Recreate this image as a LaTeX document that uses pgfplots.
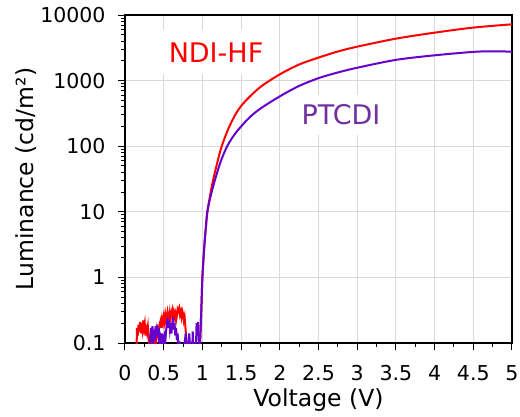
\documentclass[border=0pt]{standalone}
\usepackage{pgfplots}
\pgfplotsset{compat=1.18}
\usepackage{fontspec}
\setmainfont{DejaVu Sans}
\definecolor{ndi}{RGB}{255,0,0}
\definecolor{ptc}{RGB}{102,0,204}
\definecolor{ptctext}{RGB}{112,48,160}
\definecolor{gridc}{RGB}{217,217,217}

\begin{document}
\begin{tikzpicture}
\path[use as bounding box] (-125pt,-73pt) rectangle (395pt,343pt);
\begin{axis}[
  at={(0pt,0pt)}, anchor=south west,
  scale only axis, width=387pt, height=328pt,
  ymode=log, xmin=0, xmax=5, ymin=0.1, ymax=10000,
  xtick={0,0.5,1,1.5,2,2.5,3,3.5,4,4.5,5},
  xticklabels={0,0.5,1,1.5,2,2.5,3,3.5,4,4.5,5},
  minor x tick num=1,
  ytick={0.1,1,10,100,1000,10000},
  yticklabels={0.1,1,10,100,1000,10000},
  tick align=outside, xtick pos=bottom, ytick pos=left,
  major tick length=7pt, minor tick length=4pt,
  every tick/.style={black, line width=1pt},
  grid=major, major grid style={gridc, line width=0.8pt},
  axis line style={line width=1.2pt},
  tick label style={font=\fontsize{20.5}{24}\selectfont},
  xticklabel style={yshift=-12pt},
  yticklabel style={xshift=-9pt},
  /pgf/number format/assume math mode=true,
  xlabel={Voltage (V)}, ylabel={Luminance (cd/m²)},
  label style={font=\fontsize{23.5}{27}\selectfont},
  xlabel style={at={(axis description cs:0.5,-0.194)}, anchor=base},
  ylabel style={at={(axis description cs:-0.237,0.5)}, anchor=base, rotate=0},
]
\node[fill=white, text=ndi, font=\fontsize{27}{32}\selectfont, text height=19.7pt, text depth=0pt,
  inner ysep=12pt, minimum width=112pt] at (axis cs:1.176,2700) {NDI-HF};
\node[fill=white, text=ptctext, font=\fontsize{27}{32}\selectfont, text height=19.7pt, text depth=0pt,
  inner ysep=10pt, minimum width=104pt] at (axis cs:2.79,299) {PTCDI};

% NDI-HF
\addplot[ndi, line width=2pt, no marks] coordinates {
(0.150,0.09)(0.155,0.17)(0.165,0.13)(0.175,0.19)(0.185,0.15)(0.195,0.21)(0.205,0.14)(0.215,0.20)
(0.225,0.16)(0.235,0.22)(0.245,0.17)(0.255,0.20)(0.265,0.13)(0.275,0.19)(0.285,0.15)(0.295,0.18)
(0.305,0.12)(0.315,0.09)(0.325,0.11)(0.335,0.09)(0.345,0.14)(0.355,0.10)(0.370,0.09)(0.385,0.12)
(0.400,0.10)(0.415,0.16)(0.430,0.13)(0.445,0.19)(0.460,0.22)(0.470,0.17)(0.480,0.23)(0.490,0.20)
(0.500,0.25)(0.510,0.21)(0.520,0.27)(0.530,0.22)(0.540,0.24)(0.550,0.30)(0.560,0.26)(0.570,0.22)
(0.580,0.29)(0.590,0.24)(0.600,0.28)(0.610,0.32)(0.620,0.26)(0.630,0.30)(0.640,0.25)(0.650,0.28)
(0.660,0.22)(0.670,0.26)(0.680,0.33)(0.690,0.31)(0.700,0.34)(0.710,0.27)(0.720,0.30)(0.730,0.25)
(0.740,0.31)(0.750,0.28)(0.760,0.22)(0.770,0.25)(0.780,0.18)(0.790,0.12)(0.800,0.09)(0.950,0.09)
(0.970,0.10)
};
\addplot[ndi, line width=2pt, no marks, smooth, tension=0.5] coordinates {
(0.970,0.10)(0.985,0.30)(1.000,1.0)(1.015,2.0)(1.030,3.6)(1.045,5.8)(1.065,10)
(1.100,18)(1.140,31)(1.190,55)(1.250,100)(1.340,190)(1.440,324)(1.550,480)
(1.750,800)(2.000,1245)(2.250,1760)(2.500,2240)(2.750,2780)(3.000,3290)
(3.500,4360)(4.000,5380)(4.500,6430)(5.000,7210)
};
% PTCDI
\addplot[ptc, line width=2pt, no marks] coordinates {
(0.320,0.09)(0.335,0.17)(0.345,0.10)(0.355,0.18)(0.365,0.09)(0.375,0.16)(0.385,0.11)(0.395,0.18)
(0.405,0.13)(0.415,0.19)(0.425,0.12)(0.435,0.17)(0.445,0.09)(0.460,0.12)(0.470,0.10)(0.480,0.14)
(0.490,0.11)(0.500,0.09)(0.510,0.12)(0.520,0.10)(0.530,0.15)(0.540,0.19)(0.550,0.24)(0.560,0.17)
(0.570,0.22)(0.580,0.16)(0.590,0.20)(0.600,0.14)(0.610,0.19)(0.620,0.25)(0.630,0.16)(0.640,0.20)
(0.650,0.13)(0.660,0.17)(0.670,0.11)(0.680,0.14)(0.690,0.09)(0.710,0.10)(0.730,0.09)(0.760,0.09)
(0.770,0.10)(0.785,0.14)(0.795,0.09)(0.820,0.09)(0.830,0.14)(0.840,0.09)(0.870,0.09)(0.875,0.15)
(0.880,0.09)(0.910,0.09)(0.920,0.12)(0.925,0.20)(0.935,0.15)(0.945,0.21)(0.955,0.09)(0.970,0.10)
};
\addplot[ptc, line width=2pt, no marks, smooth, tension=0.5] coordinates {
(0.970,0.10)(0.985,0.30)(1.000,1.0)(1.015,2.0)(1.030,3.6)(1.045,5.8)(1.063,10)
(1.110,18)(1.170,33)(1.240,60)(1.320,100)(1.410,148)(1.500,200)(1.610,275)
(1.750,375)(2.000,575)(2.250,830)(2.500,1090)(2.750,1330)(3.000,1570)
(3.500,2070)(4.000,2430)(4.500,2740)(4.750,2800)(5.000,2760)
};
\end{axis}
\end{tikzpicture}
\end{document}
